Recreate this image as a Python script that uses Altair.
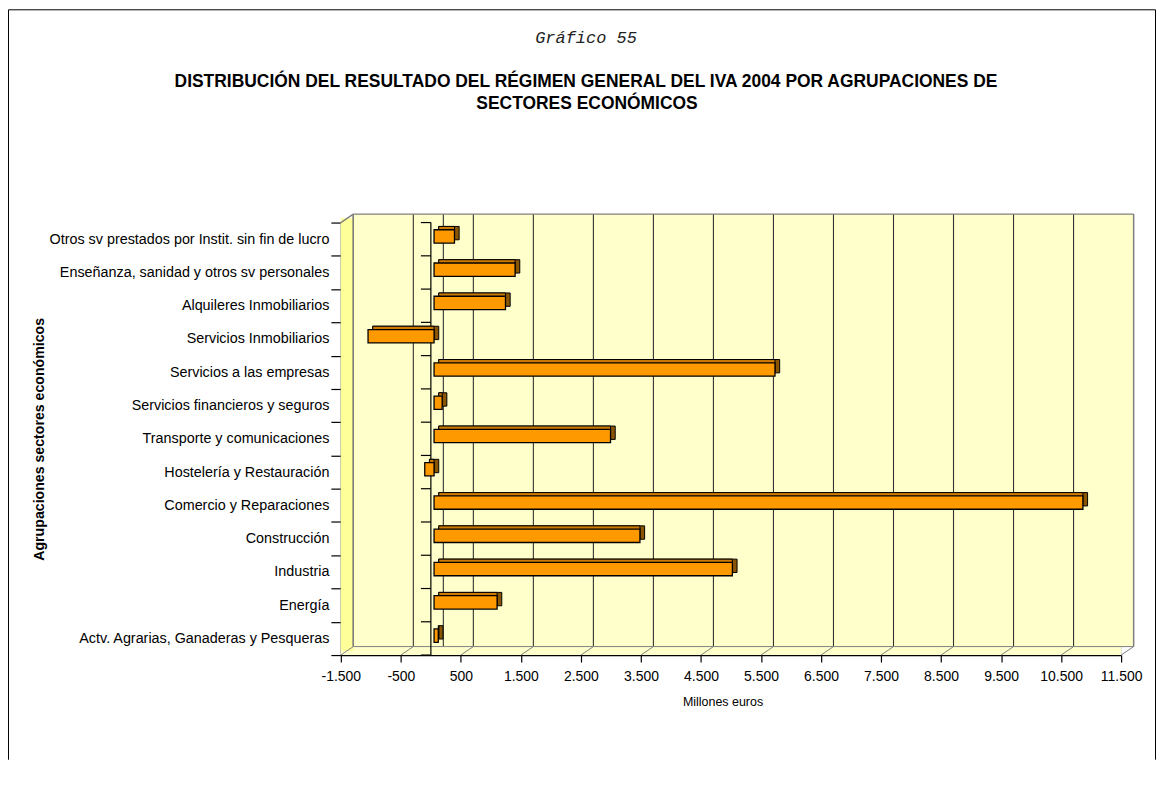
import altair as alt
import pandas as pd

# ---------------- data ----------------
categories = [
    "Otros sv prestados por Instit. sin fin de lucro",
    "Enseñanza, sanidad y otros sv personales",
    "Alquileres Inmobiliarios",
    "Servicios Inmobiliarios",
    "Servicios a las empresas",
    "Servicios financieros y seguros",
    "Transporte y comunicaciones",
    "Hostelería y Restauración",
    "Comercio y Reparaciones",
    "Construcción",
    "Industria",
    "Energía",
    "Actv. Agrarias, Ganaderas y Pesqueras",
]
values = [340, 1350, 1190, -1100, 5680, 135, 2940, -155, 10810, 3430, 4970, 1050, 70]
x_ticks = [-1500, -500, 500, 1500, 2500, 3500, 4500, 5500, 6500, 7500, 8500, 9500, 10500, 11500]

chart_label = "Gráfico 55"
title_line1 = "DISTRIBUCIÓN DEL RESULTADO DEL RÉGIMEN GENERAL DEL IVA 2004 POR AGRUPACIONES DE"
title_line2 = "SECTORES ECONÓMICOS"
x_title = "Millones euros"
y_title = "Agrupaciones sectores económicos"

# ---------------- layout constants (pixels) ----------------
W, H = 783, 434          # front plot area
DX, DY = 12.5, -8.5      # 3D depth offset of the back wall
BX, BY = 3.2, -2.8       # bar front-face offset
SX, SY = 4.7, -3.3       # bar depth
BAR_H = 13.4
PAD = {"left": 334, "top": 214, "right": 35, "bottom": 105}

bars = pd.DataFrame({"cat": categories, "value": values})
bars["start"] = bars["value"].clip(upper=0)
bars["end"] = bars["value"].clip(lower=0)
ticks = pd.DataFrame({"tick": x_ticks})
cats_df = pd.DataFrame({"cat": categories})
last_df = pd.DataFrame({"cat": [categories[-1]]})
one = pd.DataFrame({"a": [0]})

xscale = alt.Scale(domain=[x_ticks[0], x_ticks[-1]], nice=False, zero=False)
yscale = alt.Scale(domain=categories, paddingInner=0, paddingOuter=0)

AX_X = alt.Axis(values=x_ticks, title=x_title, grid=False,
                domainColor="black", domainWidth=1.2,
                tickColor="black", tickSize=7, tickWidth=1.2,
                labelFontSize=14, labelColor="black", labelPadding=8, labelFlush=False,
                labelOverlap=False,
                labelExpr="(datum.value < 0 ? '-' : '') + replace(format(abs(datum.value), ','), ',', '.')",
                titleFontSize=12.5, titleFontWeight="normal", titleColor="black",
                titleX=383, titleY=47, titleBaseline="middle", titleAlign="center")
AX_Y = alt.Axis(title=y_title, domainColor="black", domainWidth=1.2,
                tickColor="black", tickSize=10, tickWidth=1.2, tickBand="extent",
                labelFontSize=14.4, labelColor="black", labelPadding=2, labelLimit=400,
                titleFontSize=14.2, titleFontWeight="bold", titleColor="black",
                titleAngle=270, titleX=-302, titleY=H / 2,
                titleBaseline="middle", titleAlign="center")

GRID = "#333333"
EDGE = "#808080"

def X(field, **kw):
    return alt.X(field, type="quantitative", scale=xscale, axis=AX_X, **kw)

def XD(v):
    return alt.X(datum=v, type="quantitative", scale=xscale, axis=AX_X)

def Y(field, **kw):
    return alt.Y(field, type="nominal", scale=yscale, axis=AX_Y, **kw)

# ---- walls ----
back_wall = alt.Chart(one).mark_rect(fill="#FFFFCC", strokeWidth=0).encode(
    x=alt.value(DX), x2=alt.value(W + DX), y=alt.value(DY), y2=alt.value(H + DY))
front_fill = alt.Chart(one).mark_rect(fill="#FFFFCC", strokeWidth=0).encode(
    x=alt.value(0), x2=alt.value(W), y=alt.value(0), y2=alt.value(H))
side_wall = alt.Chart(one).mark_rect(fill="#FFFF99", strokeWidth=0).encode(
    x=alt.value(0), x2=alt.value(DX), y=alt.value(DY / 2), y2=alt.value(H + DY / 2))

back_grid = alt.Chart(ticks).mark_rule(color=GRID, strokeWidth=1.1, xOffset=DX).encode(
    x=X("tick"), y=alt.value(DY), y2=alt.value(H + DY))
back_zero = alt.Chart(one).mark_rule(color=GRID, strokeWidth=1.1, xOffset=DX).encode(
    x=XD(0), y=alt.value(DY), y2=alt.value(H + DY))
floor_lines = alt.Chart(ticks).mark_rule(color=EDGE, strokeWidth=1, x2Offset=DX).encode(
    x=X("tick"), x2="tick:Q", y=alt.value(H), y2=alt.value(H + DY))

edges = [
    alt.Chart(one).mark_rule(color=EDGE, strokeWidth=1.4).encode(
        x=alt.value(DX), x2=alt.value(W + DX), y=alt.value(DY)),
    alt.Chart(one).mark_rule(color=EDGE, strokeWidth=1.4).encode(
        x=alt.value(W + DX), y=alt.value(DY), y2=alt.value(H + DY)),
    alt.Chart(one).mark_rule(color=EDGE, strokeWidth=1.4).encode(
        x=alt.value(DX), y=alt.value(DY), y2=alt.value(H + DY)),
    alt.Chart(one).mark_rule(color=EDGE, strokeWidth=1).encode(
        x=alt.value(DX), x2=alt.value(W + DX), y=alt.value(H + DY)),
    alt.Chart(one).mark_rule(color=EDGE, strokeWidth=1.4).encode(
        x=alt.value(0), x2=alt.value(DX), y=alt.value(0), y2=alt.value(DY)),
]

# ---- zero (category) line with ticks ----
zero_line = alt.Chart(one).mark_rule(color="black", strokeWidth=1.2).encode(
    x=XD(0), y=alt.value(0), y2=alt.value(H))
zero_ticks = alt.Chart(cats_df).mark_rule(color="black", strokeWidth=1.2, x2Offset=-10).encode(
    x=XD(0), x2=alt.X2(datum=0), y=Y("cat", bandPosition=0))
zero_tick_end = alt.Chart(last_df).mark_rule(color="black", strokeWidth=1.2, x2Offset=-10).encode(
    x=XD(0), x2=alt.X2(datum=0), y=Y("cat", bandPosition=1))

# ---- 3D bars ----
bar_side = alt.Chart(bars).mark_bar(
    size=BAR_H, color="#8A5500", stroke="black", strokeWidth=1,
    xOffset=BX + SX, x2Offset=BX + SX, yOffset=BY + SY).encode(
    x=X("start"), x2="end:Q", y=Y("cat"))
bar_top = alt.Chart(bars).mark_bar(
    size=BAR_H, color="#CC7A00", stroke="black", strokeWidth=1,
    xOffset=BX + SX, x2Offset=BX, yOffset=BY + SY).encode(
    x=X("start"), x2="end:Q", y=Y("cat"))
bar_front = alt.Chart(bars).mark_bar(
    size=BAR_H, color="#FF9900", stroke="black", strokeWidth=1.3,
    xOffset=BX, x2Offset=BX, yOffset=BY).encode(
    x=X("start"), x2="end:Q", y=Y("cat"))

# ---- titles and frame ----
t0 = alt.Chart(one).mark_text(font="Liberation Mono", fontStyle="italic", fontSize=17,
                              color="#222222", align="center", baseline="alphabetic").encode(
    x=alt.value(246), y=alt.value(-179.7), text=alt.value(chart_label))
t1 = alt.Chart(one).mark_text(font="Liberation Sans", fontWeight="bold", fontSize=17.5,
                              color="black", align="center", baseline="alphabetic").encode(
    x=alt.value(246), y=alt.value(-136.3), text=alt.value(title_line1))
t2 = alt.Chart(one).mark_text(font="Liberation Sans", fontWeight="bold", fontSize=17.5,
                              color="black", align="center", baseline="alphabetic").encode(
    x=alt.value(247), y=alt.value(-114.3), text=alt.value(title_line2))

L, T, R, B = -PAD["left"] + 0.5, -PAD["top"] + 0.5, W + PAD["right"] - 0.5, H + PAD["bottom"]
frame = [
    alt.Chart(one).mark_rule(color="black", strokeWidth=1).encode(
        x=alt.value(L), x2=alt.value(R), y=alt.value(T)),
    alt.Chart(one).mark_rule(color="black", strokeWidth=1).encode(
        x=alt.value(L), y=alt.value(T), y2=alt.value(B)),
    alt.Chart(one).mark_rule(color="black", strokeWidth=1).encode(
        x=alt.value(R), y=alt.value(T), y2=alt.value(B)),
]

chart = alt.layer(
    back_wall, front_fill, side_wall, back_grid, back_zero, floor_lines, *edges,
    zero_line, zero_ticks, zero_tick_end,
    bar_side, bar_top, bar_front,
    t0, t1, t2, *frame,
).properties(
    width=W, height=H,
    autosize=alt.AutoSizeParams(type="none"),
    padding=PAD,
).configure_view(stroke=None).configure(
    font="Liberation Sans", background="white"
)

chart.save("out.html", embed_options={"renderer": "svg", "actions": False})
